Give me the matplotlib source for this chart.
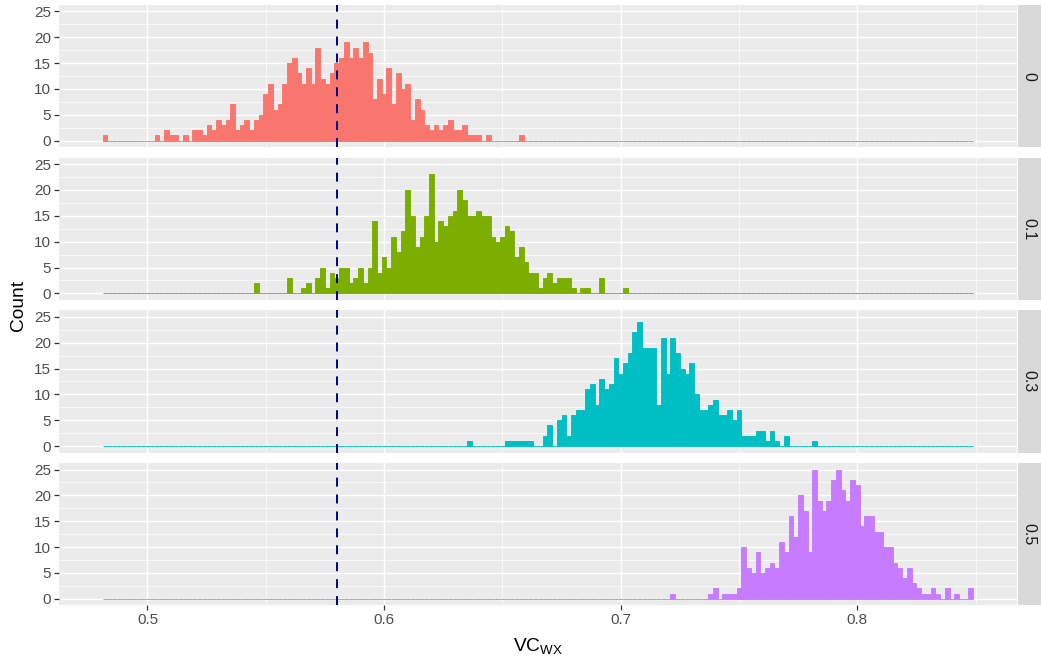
import numpy as np
import matplotlib
matplotlib.use("Agg")
import matplotlib.pyplot as plt
from matplotlib.ticker import FixedLocator

plt.rcParams['font.family'] = ['Liberation Sans', 'DejaVu Sans']

# ---------------- data ----------------
bin_start = 0.481
bin_width = 0.002
n_bins = 184
facet_labels = ["0", "0.1", "0.3", "0.5"]
fill_colors = ["#F8766D", "#7CAE00", "#00BFC4", "#C77CFF"]
ref_value = 0.58

first_bin_0 = 0
counts_0 = [1,0,0,0,0,0,0,0,0,0,0,1,0,2,1,1,0,1,0,2,2,1,3,2,4,3,4,7,2,3,4,2,4,5,9,11,6,7,11,15,
            16,13,11,14,11,18,12,11,13,15,16,19,16,18,16,19,17,8,12,9,14,7,13,10,11,4,8,6,3,2,
            3,2,3,4,2,2,3,1,1,1,0,1,0,0,0,0,0,0,1]
first_bin_1 = 32
counts_1 = [2,0,0,0,0,0,0,3,0,0,1,2,0,3,5,1,4,3,5,5,2,3,5,2,5,14,4,7,5,11,8,12,20,15,9,11,15,23,
            10,14,13,15,16,20,18,15,15,16,15,15,11,10,11,13,12,7,9,6,4,4,1,3,4,2,3,3,3,1,0,1,1,0,
            0,3,0,0,0,0,1]
first_bin_2 = 77
counts_2 = [1,0,0,0,0,0,0,0,1,1,1,1,1,1,0,0,2,4,0,5,6,2,6,7,7,11,12,8,13,11,12,17,14,16,18,22,24,
            19,19,19,8,21,14,21,18,15,14,16,10,7,7,8,9,6,6,7,5,7,2,2,2,3,3,1,3,1,0,2,0,0,0,0,0,1]
first_bin_3 = 120
counts_3 = [1,0,0,0,0,0,0,0,1,2,0,1,1,1,2,10,6,5,9,5,6,7,6,11,9,16,12,20,17,9,25,19,17,19,23,25,
            21,19,23,22,14,16,16,13,13,10,10,7,6,4,6,3,2,1,1,2,1,0,2,0,1,0,0,2]

x_ticks = [0.5, 0.6, 0.7, 0.8]
x_tick_labels = ["0.5", "0.6", "0.7", "0.8"]
x_minor = [0.55, 0.65, 0.75, 0.85]
y_ticks = [0, 5, 10, 15, 20, 25]
y_tick_labels = ["0", "5", "10", "15", "20", "25"]
y_minor = [2.5, 7.5, 12.5, 17.5, 22.5]

panel_first = [first_bin_0, first_bin_1, first_bin_2, first_bin_3]
panel_counts = [counts_0, counts_1, counts_2, counts_3]

# ---------------- figure ----------------
W, H = 1041, 661
fig = plt.figure(figsize=(W / 100, H / 100), dpi=100)

left_px, right_px = 59, 1016.7
strip_l, strip_r = 1017.5, 1041
top0, ph, gap = 5, 142.1, 10.6

edges = bin_start + bin_width * np.arange(n_bins + 1)
centers = (edges[:-1] + edges[1:]) / 2
xr = edges[-1] - edges[0]
xlim = (edges[0] - 0.05 * xr, edges[-1] + 0.05 * xr)
ylim = (-1.25, 26.25)

tick_col = "#333333"
lab_col = "#4D4D4D"

for i in range(4):
    top = top0 + i * (ph + gap)
    b = 1 - (top + ph) / H
    ax = fig.add_axes([left_px / W, b, (right_px - left_px) / W, ph / H])
    ax.set_facecolor("#EBEBEB")
    for s in ax.spines.values():
        s.set_visible(False)

    full = np.zeros(n_bins)
    c = np.array(panel_counts[i], dtype=float)
    full[panel_first[i]:panel_first[i] + len(c)] = c

    ax.bar(centers, full, width=bin_width, color=fill_colors[i],
           edgecolor=fill_colors[i], linewidth=0.65, zorder=2)
    ax.axvline(ref_value, color="#00008B", linewidth=1.4, linestyle=(0, (4.6, 4.1)), zorder=3)

    ax.set_xlim(*xlim)
    ax.set_ylim(*ylim)
    ax.xaxis.set_major_locator(FixedLocator(x_ticks))
    ax.xaxis.set_minor_locator(FixedLocator(x_minor))
    ax.yaxis.set_major_locator(FixedLocator(y_ticks))
    ax.yaxis.set_minor_locator(FixedLocator(y_minor))
    ax.grid(which="major", color="white", linewidth=1.05, zorder=0)
    ax.grid(which="minor", color="white", linewidth=0.5, zorder=0)
    ax.set_axisbelow(True)

    ax.set_yticklabels(y_tick_labels)
    ax.tick_params(axis="y", which="major", length=3.5, width=0.9, color=tick_col,
                   labelcolor=lab_col, labelsize=11, pad=2.2)
    ax.tick_params(which="minor", length=0)
    if i == 3:
        ax.set_xticklabels(x_tick_labels)
        ax.tick_params(axis="x", which="major", length=3.5, width=0.9, color=tick_col,
                       labelcolor=lab_col, labelsize=11, pad=2.2)
    else:
        ax.tick_params(axis="x", which="major", length=0, labelbottom=False)

    # strip
    sax = fig.add_axes([strip_l / W, b, (strip_r - strip_l) / W, ph / H])
    sax.set_facecolor("#D9D9D9")
    for s in sax.spines.values():
        s.set_visible(False)
    sax.set_xticks([])
    sax.set_yticks([])
    sax.text(0.5, 0.5, facet_labels[i], rotation=-90, ha="center", va="center",
             fontsize=11.5, color="#1A1A1A", transform=sax.transAxes)

# axis titles
fig.text(18 / W, 1 - (top0 + (4 * ph + 3 * gap) / 2) / H, "Count", rotation=90,
         ha="center", va="center", fontsize=13.8, color="black")
fig.text((left_px + right_px) / 2 / W, 1 - 647 / H, r"VC$_{\mathregular{WX}}$",
         ha="center", va="center", fontsize=13.8, color="black")

fig.savefig("out.png", dpi=100)
